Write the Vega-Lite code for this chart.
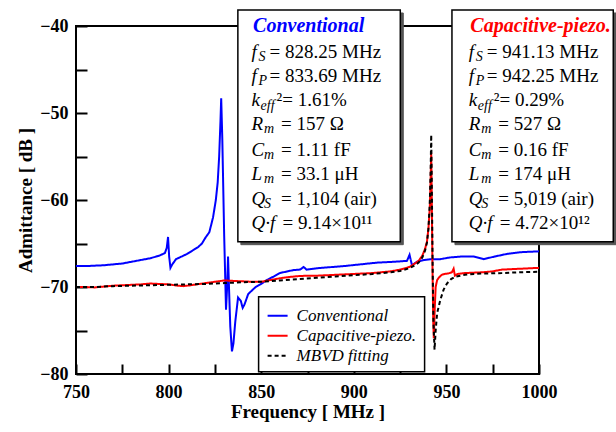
{
  "$schema": "https://vega.github.io/schema/vega-lite/v6.json",
  "width": 463,
  "height": 348,
  "autosize": "none",
  "padding": {"left": 76, "top": 26, "right": 77, "bottom": 58},
  "background": "white",
  "datasets": {
    "curves": [
      {"s":"Conventional","f":750,"db":-67.6},{"s":"Conventional","f":755,"db":-67.6},{"s":"Conventional","f":760,"db":-67.55},{"s":"Conventional","f":765,"db":-67.5},{"s":"Conventional","f":770,"db":-67.4},{"s":"Conventional","f":775,"db":-67.3},{"s":"Conventional","f":780,"db":-67.1},{"s":"Conventional","f":785,"db":-66.9},{"s":"Conventional","f":790,"db":-66.7},{"s":"Conventional","f":795,"db":-66.4},{"s":"Conventional","f":798,"db":-66.1},{"s":"Conventional","f":799,"db":-65.5},{"s":"Conventional","f":799.7,"db":-64.25},{"s":"Conventional","f":800.3,"db":-66.5},{"s":"Conventional","f":801,"db":-67.8},{"s":"Conventional","f":802,"db":-67.4},{"s":"Conventional","f":804,"db":-66.8},{"s":"Conventional","f":807,"db":-66.5},{"s":"Conventional","f":810,"db":-66.2},{"s":"Conventional","f":813,"db":-65.8},{"s":"Conventional","f":816,"db":-65.4},{"s":"Conventional","f":818,"db":-65.0},{"s":"Conventional","f":820,"db":-64.3},{"s":"Conventional","f":822,"db":-63.7},{"s":"Conventional","f":824,"db":-62.0},{"s":"Conventional","f":825.5,"db":-60.0},{"s":"Conventional","f":826.5,"db":-58.0},{"s":"Conventional","f":827.3,"db":-55.0},{"s":"Conventional","f":828,"db":-51.0},{"s":"Conventional","f":828.4,"db":-48.3},{"s":"Conventional","f":829,"db":-53},{"s":"Conventional","f":830,"db":-64},{"s":"Conventional","f":831,"db":-72.6},{"s":"Conventional","f":831.6,"db":-70},{"s":"Conventional","f":832.1,"db":-66.5},{"s":"Conventional","f":832.6,"db":-70},{"s":"Conventional","f":833.3,"db":-74.5},{"s":"Conventional","f":834.2,"db":-77.4},{"s":"Conventional","f":835,"db":-76.5},{"s":"Conventional","f":836,"db":-74},{"s":"Conventional","f":837.5,"db":-71.2},{"s":"Conventional","f":839,"db":-71.6},{"s":"Conventional","f":840,"db":-72.4},{"s":"Conventional","f":841,"db":-72.0},{"s":"Conventional","f":843,"db":-70.8},{"s":"Conventional","f":845,"db":-70.4},{"s":"Conventional","f":847,"db":-70.0},{"s":"Conventional","f":849.6,"db":-69.7},{"s":"Conventional","f":853,"db":-69.2},{"s":"Conventional","f":856.7,"db":-68.8},{"s":"Conventional","f":860,"db":-68.4},{"s":"Conventional","f":867.5,"db":-68.05},{"s":"Conventional","f":871,"db":-68.0},{"s":"Conventional","f":872.9,"db":-67.7},{"s":"Conventional","f":874.5,"db":-68.0},{"s":"Conventional","f":880,"db":-67.85},{"s":"Conventional","f":885.5,"db":-67.75},{"s":"Conventional","f":894.5,"db":-67.6},{"s":"Conventional","f":903.5,"db":-67.4},{"s":"Conventional","f":912.5,"db":-67.2},{"s":"Conventional","f":921.5,"db":-67.1},{"s":"Conventional","f":928.7,"db":-67.0},{"s":"Conventional","f":930.1,"db":-66.3},{"s":"Conventional","f":931.4,"db":-67.5},{"s":"Conventional","f":934.1,"db":-67.1},{"s":"Conventional","f":938,"db":-66.9},{"s":"Conventional","f":942,"db":-66.8},{"s":"Conventional","f":946.7,"db":-66.8},{"s":"Conventional","f":952,"db":-66.6},{"s":"Conventional","f":958,"db":-66.5},{"s":"Conventional","f":964.7,"db":-66.5},{"s":"Conventional","f":970.1,"db":-66.8},{"s":"Conventional","f":976,"db":-66.5},{"s":"Conventional","f":982.7,"db":-66.2},{"s":"Conventional","f":990,"db":-66.0},{"s":"Conventional","f":1000,"db":-65.9},
      {"s":"Capacitive-piezo.","f":750,"db":-70.0},{"s":"Capacitive-piezo.","f":755,"db":-70.0},{"s":"Capacitive-piezo.","f":760,"db":-70.05},{"s":"Capacitive-piezo.","f":765,"db":-69.95},{"s":"Capacitive-piezo.","f":770,"db":-69.85},{"s":"Capacitive-piezo.","f":775,"db":-69.8},{"s":"Capacitive-piezo.","f":780,"db":-69.75},{"s":"Capacitive-piezo.","f":785,"db":-69.7},{"s":"Capacitive-piezo.","f":790,"db":-69.6},{"s":"Capacitive-piezo.","f":795,"db":-69.65},{"s":"Capacitive-piezo.","f":800,"db":-69.7},{"s":"Capacitive-piezo.","f":805,"db":-69.85},{"s":"Capacitive-piezo.","f":808,"db":-69.9},{"s":"Capacitive-piezo.","f":812,"db":-69.8},{"s":"Capacitive-piezo.","f":815,"db":-69.7},{"s":"Capacitive-piezo.","f":820,"db":-69.55},{"s":"Capacitive-piezo.","f":825,"db":-69.4},{"s":"Capacitive-piezo.","f":830,"db":-69.25},{"s":"Capacitive-piezo.","f":835,"db":-69.3},{"s":"Capacitive-piezo.","f":840,"db":-69.35},{"s":"Capacitive-piezo.","f":845,"db":-69.4},{"s":"Capacitive-piezo.","f":850,"db":-69.4},{"s":"Capacitive-piezo.","f":855,"db":-69.2},{"s":"Capacitive-piezo.","f":860,"db":-69.0},{"s":"Capacitive-piezo.","f":865,"db":-68.85},{"s":"Capacitive-piezo.","f":870,"db":-68.75},{"s":"Capacitive-piezo.","f":875,"db":-68.7},{"s":"Capacitive-piezo.","f":880,"db":-68.7},{"s":"Capacitive-piezo.","f":885,"db":-68.65},{"s":"Capacitive-piezo.","f":890,"db":-68.6},{"s":"Capacitive-piezo.","f":895,"db":-68.55},{"s":"Capacitive-piezo.","f":900,"db":-68.5},{"s":"Capacitive-piezo.","f":905,"db":-68.45},{"s":"Capacitive-piezo.","f":910,"db":-68.4},{"s":"Capacitive-piezo.","f":915,"db":-68.3},{"s":"Capacitive-piezo.","f":920,"db":-68.2},{"s":"Capacitive-piezo.","f":925,"db":-68.0},{"s":"Capacitive-piezo.","f":930,"db":-67.7},{"s":"Capacitive-piezo.","f":933,"db":-67.3},{"s":"Capacitive-piezo.","f":935,"db":-67.0},{"s":"Capacitive-piezo.","f":937,"db":-66.4},{"s":"Capacitive-piezo.","f":938.5,"db":-65.6},{"s":"Capacitive-piezo.","f":939.5,"db":-64.8},{"s":"Capacitive-piezo.","f":940.3,"db":-63.3},{"s":"Capacitive-piezo.","f":941.0,"db":-61.0},{"s":"Capacitive-piezo.","f":941.5,"db":-57.5},{"s":"Capacitive-piezo.","f":941.8,"db":-54.6},{"s":"Capacitive-piezo.","f":942.1,"db":-60},{"s":"Capacitive-piezo.","f":942.5,"db":-68},{"s":"Capacitive-piezo.","f":942.9,"db":-74},{"s":"Capacitive-piezo.","f":943.2,"db":-75.9},{"s":"Capacitive-piezo.","f":943.7,"db":-72.5},{"s":"Capacitive-piezo.","f":944.2,"db":-70},{"s":"Capacitive-piezo.","f":945,"db":-69.2},{"s":"Capacitive-piezo.","f":946,"db":-68.9},{"s":"Capacitive-piezo.","f":947.5,"db":-68.6},{"s":"Capacitive-piezo.","f":949,"db":-68.5},{"s":"Capacitive-piezo.","f":951,"db":-68.45},{"s":"Capacitive-piezo.","f":953,"db":-68.3},{"s":"Capacitive-piezo.","f":953.9,"db":-67.9},{"s":"Capacitive-piezo.","f":954.6,"db":-68.7},{"s":"Capacitive-piezo.","f":956,"db":-68.5},{"s":"Capacitive-piezo.","f":960,"db":-68.4},{"s":"Capacitive-piezo.","f":965,"db":-68.35},{"s":"Capacitive-piezo.","f":970,"db":-68.3},{"s":"Capacitive-piezo.","f":975,"db":-68.2},{"s":"Capacitive-piezo.","f":980,"db":-68.0},{"s":"Capacitive-piezo.","f":985,"db":-67.95},{"s":"Capacitive-piezo.","f":990,"db":-67.9},{"s":"Capacitive-piezo.","f":995,"db":-67.85},{"s":"Capacitive-piezo.","f":1000,"db":-67.8},
      {"s":"MBVD fitting","f":750,"db":-70.0},{"s":"MBVD fitting","f":760,"db":-70.0},{"s":"MBVD fitting","f":770,"db":-69.9},{"s":"MBVD fitting","f":780,"db":-69.85},{"s":"MBVD fitting","f":790,"db":-69.8},{"s":"MBVD fitting","f":800,"db":-69.75},{"s":"MBVD fitting","f":810,"db":-69.7},{"s":"MBVD fitting","f":820,"db":-69.65},{"s":"MBVD fitting","f":830,"db":-69.55},{"s":"MBVD fitting","f":840,"db":-69.45},{"s":"MBVD fitting","f":850,"db":-69.4},{"s":"MBVD fitting","f":860,"db":-69.25},{"s":"MBVD fitting","f":870,"db":-69.1},{"s":"MBVD fitting","f":880,"db":-68.95},{"s":"MBVD fitting","f":890,"db":-68.8},{"s":"MBVD fitting","f":900,"db":-68.65},{"s":"MBVD fitting","f":910,"db":-68.5},{"s":"MBVD fitting","f":920,"db":-68.3},{"s":"MBVD fitting","f":925,"db":-68.15},{"s":"MBVD fitting","f":930,"db":-67.85},{"s":"MBVD fitting","f":933,"db":-67.5},{"s":"MBVD fitting","f":935,"db":-67.2},{"s":"MBVD fitting","f":937,"db":-66.6},{"s":"MBVD fitting","f":938.5,"db":-65.8},{"s":"MBVD fitting","f":939.5,"db":-64.9},{"s":"MBVD fitting","f":940.3,"db":-63.3},{"s":"MBVD fitting","f":941.0,"db":-60.5},{"s":"MBVD fitting","f":941.5,"db":-56.5},{"s":"MBVD fitting","f":941.8,"db":-52.5},{"s":"MBVD fitting","f":942.1,"db":-58},{"s":"MBVD fitting","f":942.6,"db":-68},{"s":"MBVD fitting","f":943.0,"db":-74},{"s":"MBVD fitting","f":943.6,"db":-77.2},{"s":"MBVD fitting","f":944.2,"db":-75},{"s":"MBVD fitting","f":945,"db":-73},{"s":"MBVD fitting","f":946.7,"db":-71.5},{"s":"MBVD fitting","f":948.5,"db":-70.3},{"s":"MBVD fitting","f":950.3,"db":-69.6},{"s":"MBVD fitting","f":952.5,"db":-69.1},{"s":"MBVD fitting","f":955,"db":-68.8},{"s":"MBVD fitting","f":960,"db":-68.6},{"s":"MBVD fitting","f":965,"db":-68.5},{"s":"MBVD fitting","f":970,"db":-68.45},{"s":"MBVD fitting","f":980,"db":-68.4},{"s":"MBVD fitting","f":990,"db":-68.3},{"s":"MBVD fitting","f":1000,"db":-68.25}
    ],
    "boxes": [
      {"s":"Conventional","x1":837.4,"x2":925.1,"y1":-38.16,"y2":-64.79},
      {"s":"Capacitive-piezo.","x1":953.0,"x2":1040.1,"y1":-38.16,"y2":-64.79}
    ],
    "titles": [
      {"s":"Conventional","f":845.6,"db":-39.95},
      {"s":"Capacitive-piezo.","f":962.9,"db":-40.0}
    ],
    "params": [
      {"s":"Conventional","sym":"f","sub":"S","rest":"= 828.25 MHz","f":844.8,"db":-42.95},
      {"s":"Conventional","sym":"f","sub":"P","rest":"= 833.69 MHz","f":844.8,"db":-45.75},
      {"s":"Conventional","sym":"k","sub":"eff","rest":"²= 1.61%","f":844.8,"db":-48.5},
      {"s":"Conventional","sym":"R","sub":"m","rest":"= 157 Ω","f":844.8,"db":-51.26},
      {"s":"Conventional","sym":"C","sub":"m","rest":"= 1.11 fF","f":844.8,"db":-54.25},
      {"s":"Conventional","sym":"L","sub":"m","rest":"= 33.1 μH","f":844.8,"db":-57.0},
      {"s":"Conventional","sym":"Q","sub":"S","rest":"= 1,104 (air)","f":844.8,"db":-59.9},
      {"s":"Conventional","sym":"Q·f","sub":"","rest":"= 9.14×10¹¹","f":844.8,"db":-62.6},
      {"s":"Capacitive-piezo.","sym":"f","sub":"S","rest":"= 941.13 MHz","f":962.1,"db":-42.95},
      {"s":"Capacitive-piezo.","sym":"f","sub":"P","rest":"= 942.25 MHz","f":962.1,"db":-45.75},
      {"s":"Capacitive-piezo.","sym":"k","sub":"eff","rest":"²= 0.29%","f":962.1,"db":-48.5},
      {"s":"Capacitive-piezo.","sym":"R","sub":"m","rest":"= 527 Ω","f":962.1,"db":-51.26},
      {"s":"Capacitive-piezo.","sym":"C","sub":"m","rest":"= 0.16 fF","f":962.1,"db":-54.25},
      {"s":"Capacitive-piezo.","sym":"L","sub":"m","rest":"= 174 μH","f":962.1,"db":-57.0},
      {"s":"Capacitive-piezo.","sym":"Q","sub":"S","rest":"= 5,019 (air)","f":962.1,"db":-59.9},
      {"s":"Capacitive-piezo.","sym":"Q·f","sub":"","rest":"= 4.72×10¹²","f":962.1,"db":-62.6}
    ]
  },
  "layer": [
    {
      "data": {"name": "curves"},
      "mark": {"type": "line", "interpolate": "linear", "clip": true},
      "encoding": {
        "x": {"field": "f", "type": "quantitative",
          "scale": {"domain": [750, 1000], "nice": false, "zero": false},
          "axis": {"values": [750,775,800,825,850,875,900,925,950,975,1000],
            "format": "d",
            "labelExpr": "datum.value % 50 == 0 ? datum.label : ''",
            "tickSize": -10, "labelPadding": 19, "labelFlush": false,
            "title": "Frequency [ MHz ]", "titlePadding": 1}},
        "y": {"field": "db", "type": "quantitative",
          "scale": {"domain": [-80, -40], "nice": false, "zero": false},
          "axis": {"values": [-80,-75,-70,-65,-60,-55,-50,-45,-40],
            "format": "d",
            "labelExpr": "datum.value % 10 == 0 ? datum.label : ''",
            "tickSize": -11, "labelPadding": 19, "labelFlush": false,
            "title": "Admittance [ dB ]", "titlePadding": 4}},
        "color": {"field": "s", "type": "nominal",
          "scale": {"domain": ["Conventional","Capacitive-piezo.","MBVD fitting"], "range": ["#0000ff","#ff0000","#000000"]},
          "legend": {"title": null}},
        "strokeDash": {"field": "s", "type": "nominal",
          "scale": {"domain": ["Conventional","Capacitive-piezo.","MBVD fitting"], "range": [[1,0],[1,0],[4,3]]},
          "legend": {"title": null}},
        "strokeWidth": {"field": "s", "type": "nominal",
          "scale": {"domain": ["Conventional","Capacitive-piezo.","MBVD fitting"], "range": [2,2,1.5]},
          "legend": null}
      }
    },
    {
      "data": {"name": "boxes"},
      "mark": {"type": "rect", "fill": "#555555", "stroke": "#555555", "strokeWidth": 1, "xOffset": 3, "x2Offset": 3, "yOffset": 3, "y2Offset": 3},
      "encoding": {
        "x": {"field": "x1", "type": "quantitative"},
        "x2": {"field": "x2"},
        "y": {"field": "y1", "type": "quantitative"},
        "y2": {"field": "y2"}
      }
    },
    {
      "data": {"name": "boxes"},
      "mark": {"type": "rect", "fill": "white", "stroke": "black", "strokeWidth": 1.5},
      "encoding": {
        "x": {"field": "x1", "type": "quantitative"},
        "x2": {"field": "x2"},
        "y": {"field": "y1", "type": "quantitative"},
        "y2": {"field": "y2"}
      }
    },
    {
      "data": {"name": "titles"},
      "mark": {"type": "text", "align": "left", "baseline": "middle", "font": "Liberation Serif", "fontSize": 20, "fontWeight": "bold", "fontStyle": "italic"},
      "encoding": {
        "x": {"field": "f", "type": "quantitative"},
        "y": {"field": "db", "type": "quantitative"},
        "text": {"field": "s"},
        "color": {"field": "s", "type": "nominal", "legend": null}
      }
    },
    {
      "data": {"name": "params"},
      "mark": {"type": "text", "align": "left", "baseline": "middle", "font": "Liberation Serif", "fontSize": 19, "fontStyle": "italic", "color": "black"},
      "encoding": {
        "x": {"field": "f", "type": "quantitative"},
        "y": {"field": "db", "type": "quantitative"},
        "text": {"field": "sym"}
      }
    },
    {
      "data": {"name": "params"},
      "transform": [{"filter": "datum.sym == 'f'"}],
      "mark": {"type": "text", "align": "left", "baseline": "middle", "font": "Liberation Serif", "fontSize": 14, "fontStyle": "italic", "color": "black", "dx": 7, "dy": 5},
      "encoding": {
        "x": {"field": "f", "type": "quantitative"},
        "y": {"field": "db", "type": "quantitative"},
        "text": {"field": "sub"}
      }
    },
    {
      "data": {"name": "params"},
      "transform": [{"filter": "datum.sym == 'k'"}],
      "mark": {"type": "text", "align": "left", "baseline": "middle", "font": "Liberation Serif", "fontSize": 14, "fontStyle": "italic", "color": "black", "dx": 9, "dy": 6},
      "encoding": {
        "x": {"field": "f", "type": "quantitative"},
        "y": {"field": "db", "type": "quantitative"},
        "text": {"field": "sub"}
      }
    },
    {
      "data": {"name": "params"},
      "transform": [{"filter": "datum.sym == 'R' || datum.sym == 'C' || datum.sym == 'L' || datum.sym == 'Q'"}],
      "mark": {"type": "text", "align": "left", "baseline": "middle", "font": "Liberation Serif", "fontSize": 14, "fontStyle": "italic", "color": "black", "dx": 12.5, "dy": 5},
      "encoding": {
        "x": {"field": "f", "type": "quantitative"},
        "y": {"field": "db", "type": "quantitative"},
        "text": {"field": "sub"}
      }
    },
    {
      "data": {"name": "params"},
      "transform": [{"filter": "datum.sym == 'f'"}],
      "mark": {"type": "text", "align": "left", "baseline": "middle", "font": "Liberation Serif", "fontSize": 19, "color": "black", "dx": 18},
      "encoding": {
        "x": {"field": "f", "type": "quantitative"},
        "y": {"field": "db", "type": "quantitative"},
        "text": {"field": "rest"}
      }
    },
    {
      "data": {"name": "params"},
      "transform": [{"filter": "datum.sym == 'k'"}],
      "mark": {"type": "text", "align": "left", "baseline": "middle", "font": "Liberation Serif", "fontSize": 19, "color": "black", "dx": 25},
      "encoding": {
        "x": {"field": "f", "type": "quantitative"},
        "y": {"field": "db", "type": "quantitative"},
        "text": {"field": "rest"}
      }
    },
    {
      "data": {"name": "params"},
      "transform": [{"filter": "datum.sym == 'R' || datum.sym == 'C' || datum.sym == 'L' || datum.sym == 'Q'"}],
      "mark": {"type": "text", "align": "left", "baseline": "middle", "font": "Liberation Serif", "fontSize": 19, "color": "black", "dx": 29.5},
      "encoding": {
        "x": {"field": "f", "type": "quantitative"},
        "y": {"field": "db", "type": "quantitative"},
        "text": {"field": "rest"}
      }
    },
    {
      "data": {"name": "params"},
      "transform": [{"filter": "datum.sym == 'Q·f'"}],
      "mark": {"type": "text", "align": "left", "baseline": "middle", "font": "Liberation Serif", "fontSize": 19, "color": "black", "dx": 31},
      "encoding": {
        "x": {"field": "f", "type": "quantitative"},
        "y": {"field": "db", "type": "quantitative"},
        "text": {"field": "rest"}
      }
    }
  ],
  "config": {
    "view": {"stroke": "black", "strokeWidth": 2},
    "font": "Liberation Serif",
    "axis": {
      "domain": false, "grid": false,
      "tickColor": "black", "tickWidth": 2,
      "labelFont": "Liberation Serif", "labelFontWeight": "bold", "labelFontSize": 18, "labelColor": "black",
      "titleFont": "Liberation Serif", "titleFontWeight": "bold", "titleFontSize": 19, "titleColor": "black"
    },
    "legend": {
      "orient": "none", "legendX": 182.6, "legendY": 270.7,
      "fillColor": "white", "strokeColor": "black", "strokeWidth": 1.5,
      "padding": 8, "symbolType": "stroke", "symbolSize": 400, "symbolStrokeWidth": 2,
      "labelFont": "Liberation Serif", "labelFontStyle": "italic", "labelFontSize": 17, "labelColor": "black",
      "labelOffset": 8, "rowPadding": 1
    }
  }
}
